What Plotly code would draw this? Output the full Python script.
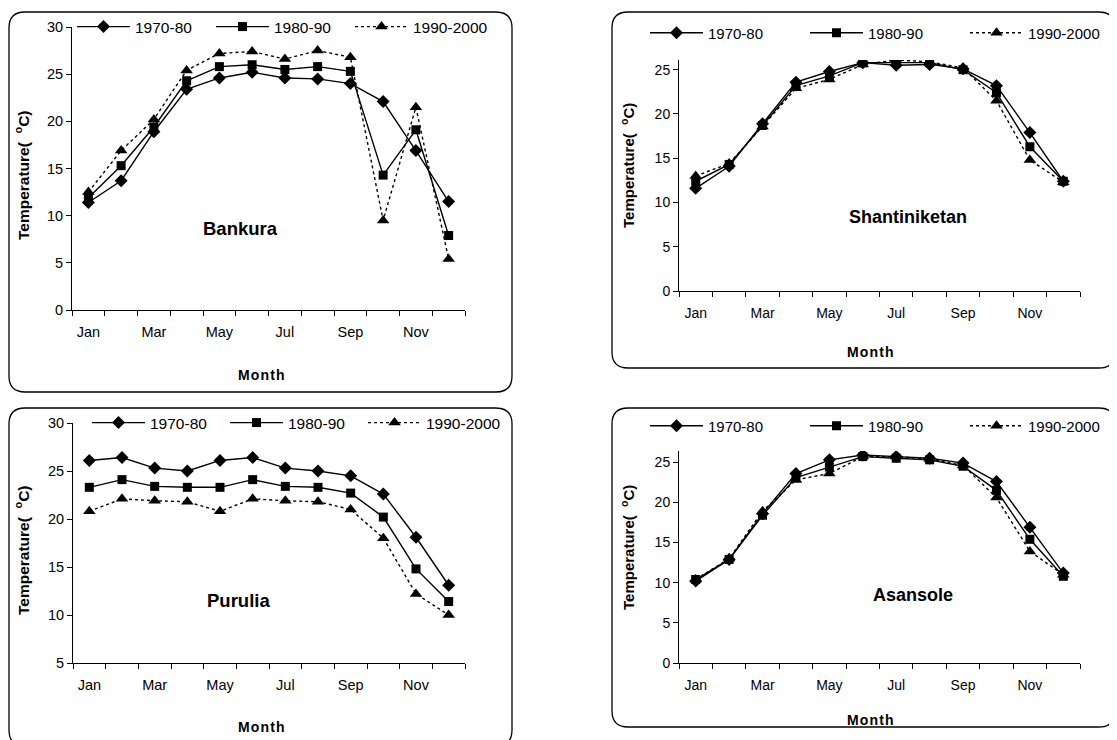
import plotly.graph_objects as go

MONTHS = ["Jan", "Feb", "Mar", "Apr", "May", "Jun", "Jul", "Aug", "Sep", "Oct", "Nov", "Dec"]
TICK_TEXT = ["Jan", "", "Mar", "", "May", "", "Jul", "", "Sep", "", "Nov", ""]
SERIES_NAMES = ["1970-80", "1980-90", "1990-2000"]

BANKURA_1970_80 = [11.4, 13.7, 18.9, 23.4, 24.6, 25.2, 24.6, 24.5, 24.0, 22.1, 16.9, 11.5]
BANKURA_1980_90 = [11.9, 15.3, 19.4, 24.3, 25.8, 26.0, 25.5, 25.8, 25.3, 14.3, 19.1, 7.9]
BANKURA_1990_2000 = [12.5, 16.9, 20.2, 25.4, 27.2, 27.4, 26.6, 27.5, 26.8, 9.5, 21.5, 5.4]

SHANTI_1970_80 = [11.6, 14.1, 18.9, 23.6, 24.8, 25.8, 25.5, 25.6, 25.1, 23.2, 17.9, 12.4]
SHANTI_1980_90 = [12.4, 14.3, 18.7, 23.2, 24.3, 25.8, 25.8, 25.8, 25.0, 22.4, 16.3, 12.4]
SHANTI_1990_2000 = [13.0, 14.4, 18.6, 22.9, 23.9, 25.6, 26.1, 25.9, 25.2, 21.5, 14.8, 12.3]

PURULIA_1970_80 = [26.1, 26.4, 25.3, 25.0, 26.1, 26.4, 25.3, 25.0, 24.5, 22.6, 18.1, 13.1]
PURULIA_1980_90 = [23.3, 24.1, 23.4, 23.3, 23.3, 24.1, 23.4, 23.3, 22.7, 20.2, 14.8, 11.4]
PURULIA_1990_2000 = [20.8, 22.1, 21.9, 21.8, 20.8, 22.1, 21.9, 21.8, 21.0, 18.0, 12.2, 10.0]

ASANSOLE_1970_80 = [10.2, 12.9, 18.6, 23.6, 25.3, 25.9, 25.7, 25.5, 24.9, 22.6, 16.9, 11.2]
ASANSOLE_1980_90 = [10.4, 12.9, 18.4, 23.1, 24.4, 25.7, 25.5, 25.3, 24.5, 21.5, 15.4, 10.8]
ASANSOLE_1990_2000 = [10.4, 13.0, 18.9, 22.8, 23.6, 25.7, 25.7, 25.4, 24.6, 20.6, 13.9, 11.0]

STATIONS = ["Bankura", "Shantiniketan", "Purulia", "Asansole"]
STATION_DATA = [
    [BANKURA_1970_80, BANKURA_1980_90, BANKURA_1990_2000],
    [SHANTI_1970_80, SHANTI_1980_90, SHANTI_1990_2000],
    [PURULIA_1970_80, PURULIA_1980_90, PURULIA_1990_2000],
    [ASANSOLE_1970_80, ASANSOLE_1980_90, ASANSOLE_1990_2000],
]
Y_RANGES = [[0, 30], [0, 26.1], [5, 30], [0, 26.4]]
Y_TICKS = [[0, 5, 10, 15, 20, 25, 30], [0, 5, 10, 15, 20, 25], [5, 10, 15, 20, 25, 30], [0, 5, 10, 15, 20, 25]]

W, H = 1117, 740
FONT = "Arial, Liberation Sans, sans-serif"
PAGE_OFFSET = 8  # the page places the figure 8 px right and down

def px(x):
    return (x - PAGE_OFFSET) / W

def py(y):
    return 1 - (y - PAGE_OFFSET) / H

# layout (page pixels): plot area [x0, x1, ytop, ybottom]
PLOT_BOXES = [
    (72, 465, 27, 310),
    (679, 1080, 60, 291),
    (73, 465, 423, 663),
    (679, 1080, 451, 663),
]
FRAMES = [
    (9, 12, 512, 392),
    (612, 12, 1115, 368),
    (9, 408, 512, 746),
    (612, 408, 1115, 727),
]
LEGEND_POS = [(72, 27, 15.5, 71), (645, 33, 15, 92), (87, 423, 15.5, 70), (645, 426, 15, 92)]
LABEL_POS = [(240, 228, 18.5), (908, 217, 18), (238, 600, 18.5), (913, 595, 18)]
YTITLE_POS = [(22, 175, 15.5), (627, 166, 15), (22, 550, 15.5), (627, 548, 15)]
XTITLE_POS = [(261, 375, 14), (871, 352, 14), (261, 727, 14), (871, 720, 14)]
TICK_FONT = [14.5, 14, 14.5, 14]

MARKERS = [
    dict(symbol="diamond", size=10),
    dict(symbol="square", size=9),
    dict(symbol="triangle-up", size=11),
]
DASHES = ["solid", "solid", "dot"]

fig = go.Figure()

for i, (station, series) in enumerate(zip(STATIONS, STATION_DATA)):
    n = i + 1
    xa = "x" if n == 1 else f"x{n}"
    ya = "y" if n == 1 else f"y{n}"
    lg = "legend" if n == 1 else f"legend{n}"
    for name, vals, mk, dash in zip(SERIES_NAMES, series, MARKERS, DASHES):
        fig.add_trace(go.Scatter(
            x=MONTHS, y=vals, name=name, mode="lines+markers",
            xaxis=xa, yaxis=ya, legend=lg,
            line=dict(color="black", width=1.4, dash=dash),
            marker=dict(color="black", **mk),
        ))
    x0, x1, yt, yb = PLOT_BOXES[i]
    xkey = "xaxis" if n == 1 else f"xaxis{n}"
    ykey = "yaxis" if n == 1 else f"yaxis{n}"
    fig.update_layout(**{
        xkey: dict(
            domain=[px(x0), px(x1)], anchor=ya, type="category",
            range=[-0.5, 11.5], tickmode="array", tickvals=MONTHS, ticktext=TICK_TEXT,
            tickson="boundaries", ticks="outside", ticklen=5, tickcolor="black", tickangle=0,
            ticklabelstandoff=9,
            showline=True, linecolor="black", linewidth=1, showgrid=False, zeroline=False,
            tickfont=dict(family=FONT, size=TICK_FONT[i], color="black"),
        ),
        ykey: dict(
            domain=[py(yb), py(yt)], anchor=xa, range=Y_RANGES[i],
            tickmode="array", tickvals=Y_TICKS[i], ticks="outside", ticklen=5, tickcolor="black",
            showline=True, linecolor="black", linewidth=1, showgrid=False, zeroline=False,
            tickfont=dict(family=FONT, size=TICK_FONT[i], color="black"),
        ),
    })
    lx, ly, lfs, lew = LEGEND_POS[i]
    fig.update_layout(**{
        lg: dict(
            orientation="h", x=px(lx), y=py(ly), xanchor="left", yanchor="middle",
            xref="paper", yref="paper",
            font=dict(family=FONT, size=lfs, color="black"),
            bgcolor="rgba(255,255,255,0)", entrywidth=lew, entrywidthmode="pixels",
            itemwidth=53,
        )
    })
    tx, ty, tfs = LABEL_POS[i]
    fig.add_annotation(x=px(tx), y=py(ty), xref="paper", yref="paper", text=f"<b>{station}</b>",
                       xanchor="center", yanchor="middle",
                       showarrow=False, font=dict(family=FONT, size=tfs, color="black"))
    yx, yy, yfs = YTITLE_POS[i]
    fig.add_annotation(x=px(yx), y=py(yy), xref="paper", yref="paper",
                       text="<b>Temperature(\u00a0\u00a0<sup>o</sup>C)</b>", textangle=-90,
                       xanchor="center", yanchor="middle",
                       showarrow=False, font=dict(family=FONT, size=yfs, color="black"))
    mx, my, mfs = XTITLE_POS[i]
    fig.add_annotation(x=px(mx), y=py(my), xref="paper", yref="paper",
                       text="<b>M\u200ao\u200an\u200at\u200ah</b>",
                       xanchor="center", yanchor="middle",
                       showarrow=False, font=dict(family=FONT, size=mfs, color="black"))
    # rounded frame
    fx0, fy0, fx1, fy1 = FRAMES[i]
    r = 16
    path = (f"M {px(fx0 + r)},{py(fy0)} L {px(fx1 - r)},{py(fy0)} "
            f"Q {px(fx1)},{py(fy0)} {px(fx1)},{py(fy0 + r)} "
            f"L {px(fx1)},{py(fy1 - r)} Q {px(fx1)},{py(fy1)} {px(fx1 - r)},{py(fy1)} "
            f"L {px(fx0 + r)},{py(fy1)} Q {px(fx0)},{py(fy1)} {px(fx0)},{py(fy1 - r)} "
            f"L {px(fx0)},{py(fy0 + r)} Q {px(fx0)},{py(fy0)} {px(fx0 + r)},{py(fy0)} Z")
    fig.add_shape(type="path", path=path, xref="paper", yref="paper",
                  line=dict(color="black", width=1.3), layer="below")

fig.update_layout(
    width=W, height=H, margin=dict(l=0, r=0, t=0, b=0, autoexpand=False),
    paper_bgcolor="white", plot_bgcolor="white",
    font=dict(family=FONT, color="black"),
)

fig.write_html("out.html")
